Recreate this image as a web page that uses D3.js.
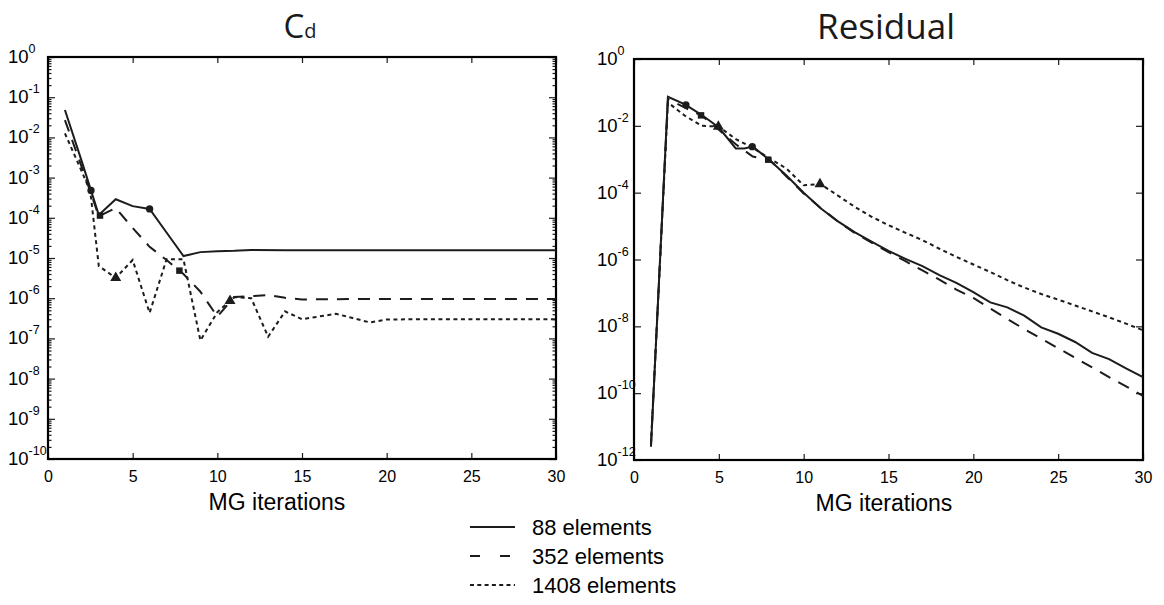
<!DOCTYPE html>
<html>
<head>
<meta charset="utf-8">
<script src="https://cdn.jsdelivr.net/npm/d3@7"></script>
<style>
body { margin: 0; background: #fff; }
svg { display: block; }
</style>
</head>
<body>
<svg id="chart" width="1164" height="605"></svg>
<script>
// series names
const seriesNames = ["88 elements", "352 elements", "1408 elements"];

// Cd panel
const cdIter88 = [1, 2, 3, 4, 5, 6, 7, 8, 9, 10, 11, 12, 14, 16, 18, 20, 22, 24, 26, 28, 30];
const cd88 = [4.8e-2, 2.5e-3, 1.17e-4, 2.9e-4, 1.95e-4, 1.66e-4, 4.3e-5, 1.12e-5, 1.4e-5, 1.48e-5, 1.51e-5,
    1.58e-5, 1.56e-5, 1.55e-5, 1.56e-5, 1.56e-5, 1.55e-5, 1.55e-5, 1.55e-5, 1.55e-5, 1.55e-5];
const cdIter352 = [1, 2, 3, 4, 5, 6, 7, 8, 9, 10, 11, 12, 13, 14, 15, 18, 21, 24, 27, 30];
const cd352 = [2.7e-2, 1.8e-3, 1.1e-4, 1.75e-4, 5.6e-5, 1.9e-5, 8.9e-6, 4e-6, 1.45e-6, 3.5e-7, 1.07e-6,
    1.12e-6, 1.2e-6, 1.02e-6, 9.3e-7, 9.5e-7, 9.5e-7, 9.5e-7, 9.5e-7, 9.5e-7];
const cdIter1408 = [1, 2, 2.5, 3, 4, 5, 6, 7, 8, 9, 10, 11, 12, 13, 14, 15, 16, 17, 18, 19, 20, 22, 25, 28, 30];
const cd1408 = [1.26e-2, 1.4e-3, 4.5e-4, 6.3e-6, 3.2e-6, 8.9e-6, 4.3e-7, 9.3e-6, 9.3e-6, 8.9e-8, 4.5e-7, 1.07e-6,
    1e-6, 1.1e-7, 4.7e-7, 3e-7, 3.5e-7, 4.1e-7, 3.2e-7, 2.5e-7, 2.95e-7, 3e-7, 3e-7, 3e-7, 3e-7];
// marker positions (iteration) along each Cd curve
const cdMarks = [[2.54, 6], [3.07, 7.76], [4, 10.75]];

// Residual panel
const resIter88 = [1, 2, 3, 4, 5, 6, 6.5, 7, 8, 9, 10, 11, 12, 13, 14, 15, 16, 17, 18, 19, 20, 21, 22, 23, 24, 25, 26, 27, 28, 29, 30];
const res88 = [2.5e-12, 7.4e-2, 4.4e-2, 2.1e-2, 8.9e-3, 2.1e-3, 2.1e-3, 2.4e-3, 9.3e-4, 3.2e-4, 1e-4, 3.4e-5, 1.4e-5,
    6.6e-6, 3.4e-6, 1.8e-6, 1.05e-6, 6.3e-7, 3.4e-7, 2e-7, 1.05e-7, 5.2e-8, 3.7e-8, 2.1e-8, 9.3e-9, 6e-9, 3.4e-9,
    1.6e-9, 1.05e-9, 5.5e-10, 3e-10];
const resIter352 = [1, 2, 3, 4, 5, 6, 7, 8, 9, 10, 11, 12, 13, 14, 15, 16, 17, 18, 19, 20, 21, 22, 23, 24, 25, 26, 27, 28, 29, 30];
const res352 = [2.8e-12, 6.3e-2, 3.5e-2, 2e-2, 7.6e-3, 2.8e-3, 1.2e-3, 9.5e-4, 3e-4, 9.5e-5, 3.5e-5, 1.4e-5, 6.3e-6,
    3.2e-6, 1.66e-6, 8.9e-7, 4.7e-7, 2.5e-7, 1.26e-7, 7.1e-8, 3.4e-8, 1.66e-8, 8.3e-9, 4.3e-9, 2.2e-9, 1.15e-9,
    5.9e-10, 3e-10, 1.6e-10, 8.3e-11];
const resIter1408 = [1, 2, 3, 4, 5, 6, 7, 8, 9, 10, 11, 12, 13, 14, 15, 16, 17, 18, 19, 20, 21, 22, 23, 24, 25, 26, 27, 28, 29, 30];
const res1408 = [3.2e-12, 5e-2, 2e-2, 1e-2, 9.5e-3, 4e-3, 2.2e-3, 1.05e-3, 5.2e-4, 1.66e-4, 1.8e-4, 8.3e-5, 3.8e-5,
    1.9e-5, 1.07e-5, 6.3e-6, 3.8e-6, 2.1e-6, 1.2e-6, 7.1e-7, 4.2e-7, 2.4e-7, 1.45e-7, 9.3e-8, 6.3e-8, 4.2e-8,
    2.8e-8, 1.86e-8, 1.2e-8, 7.6e-9];
const resMarks = [[3.06, 6.97], [3.95, 7.91], [4.97, 10.96]];

const xTicks = [0, 5, 10, 15, 20, 25, 30];
const cdExps = [0, -1, -2, -3, -4, -5, -6, -7, -8, -9, -10];
const resExps = [0, -2, -4, -6, -8, -10, -12];

const dashes = [null, "12,9", "4,3.5"];
const markerShapes = [d3.symbolCircle, d3.symbolSquare, d3.symbolTriangle];
const ink = "#1c1c1c";

const svg = d3.select("#chart");
svg.append("rect").attr("width", 1164).attr("height", 605).attr("fill", "#fff");

function zipSeries(xs, ys) {
    return xs.map((x, i) => [x, ys[i]]);
}

// log-linear interpolation to place a marker on a curve
function valueAt(pts, xv) {
    for (let i = 1; i < pts.length; i++) {
        if (xv <= pts[i][0]) {
            const t = (xv - pts[i - 1][0]) / (pts[i][0] - pts[i - 1][0]);
            const l = Math.log10(pts[i - 1][1]) * (1 - t) + Math.log10(pts[i][1]) * t;
            return Math.pow(10, l);
        }
    }
    return pts[pts.length - 1][1];
}

function drawPanel(cfg) {
    const g = svg.append("g").attr("transform", `translate(${cfg.left},${cfg.top})`);
    const w = cfg.width, h = cfg.height;

    const x = d3.scaleLinear().domain([0, 30]).range([0, w]);
    const y = d3.scaleLog().domain([Math.pow(10, cfg.exps[cfg.exps.length - 1]), 1]).range([h, 0]);

    const clipId = "clip-" + cfg.id;
    g.append("clipPath").attr("id", clipId).append("rect").attr("width", w).attr("height", h);

    // x axes, ticks pointing inward
    const xb = g.append("g").attr("transform", `translate(0,${h})`)
        .call(d3.axisBottom(x).tickValues(xTicks).tickSizeInner(-6).tickSizeOuter(0).tickPadding(12));
    g.append("g")
        .call(d3.axisTop(x).tickValues(xTicks).tickSizeInner(-6).tickSizeOuter(0).tickFormat(""));
    xb.selectAll("text").attr("font-family", "Liberation Sans, Arial, sans-serif").attr("font-size", 16).attr("fill", "#000");

    // y axes
    const majors = cfg.exps.map((e) => Math.pow(10, e));
    g.append("g").call(d3.axisLeft(y).tickValues(majors).tickSizeInner(-7).tickSizeOuter(0).tickFormat(""));
    g.append("g").attr("transform", `translate(${w},0)`)
        .call(d3.axisRight(y).tickValues(majors).tickSizeInner(-7).tickSizeOuter(0).tickFormat(""));

    if (cfg.minor) {
        const minors = [];
        cfg.exps.slice(0, -1).forEach((e) => {
            for (let k = 2; k <= 9; k++) minors.push(k * Math.pow(10, e - 1));
        });
        g.append("g").call(d3.axisLeft(y).tickValues(minors).tickSizeInner(-3.5).tickSizeOuter(0).tickFormat(""));
        g.append("g").attr("transform", `translate(${w},0)`)
            .call(d3.axisRight(y).tickValues(minors).tickSizeInner(-3.5).tickSizeOuter(0).tickFormat(""));
    }

    g.selectAll(".domain").remove();
    g.selectAll(".tick line").attr("stroke", ink).attr("stroke-width", 1.2);

    // frame
    g.append("rect").attr("width", w).attr("height", h)
        .attr("fill", "none").attr("stroke", "#000").attr("stroke-width", 2.2);

    // y tick labels as 10^n
    const lab = g.append("g").attr("font-family", "Liberation Sans, Arial, sans-serif").attr("fill", "#000");
    cfg.exps.forEach((e) => {
        const t = lab.append("text")
            .attr("x", cfg.labelX - cfg.left)
            .attr("y", y(Math.pow(10, e)) + 6)
            .attr("font-size", 18.5);
        t.append("tspan").text("10");
        t.append("tspan").attr("dy", -10).attr("font-size", 12.5).text(String(e));
    });

    // curves
    const line = d3.line().x((d) => x(d[0])).y((d) => y(d[1]));
    const curves = g.append("g").attr("clip-path", `url(#${clipId})`);
    cfg.series.forEach((pts, i) => {
        curves.append("path")
            .attr("d", line(pts))
            .attr("fill", "none")
            .attr("stroke", ink)
            .attr("stroke-width", 2)
            .attr("stroke-dasharray", dashes[i]);
    });

    // markers
    cfg.series.forEach((pts, i) => {
        cfg.marks[i].forEach((mx) => {
            curves.append("path")
                .attr("d", d3.symbol().type(markerShapes[i]).size(i === 2 ? 52 : 42)())
                .attr("transform", `translate(${x(mx)},${y(valueAt(pts, mx))})`)
                .attr("fill", ink);
        });
    });

    // x title
    g.append("text")
        .attr("x", cfg.xLabelX - cfg.left)
        .attr("y", h + 51)
        .attr("text-anchor", "middle")
        .attr("font-family", "Liberation Sans, Arial, sans-serif")
        .attr("font-size", 23)
        .text("MG iterations");

    return g;
}

drawPanel({
    id: "cd", left: 48, top: 57, width: 508, height: 402,
    exps: cdExps, minor: true, labelX: 8, xLabelX: 277,
    series: [zipSeries(cdIter88, cd88), zipSeries(cdIter352, cd352), zipSeries(cdIter1408, cd1408)],
    marks: cdMarks
});

drawPanel({
    id: "res", left: 634, top: 59, width: 509, height: 401,
    exps: resExps, minor: false, labelX: 597, xLabelX: 884,
    series: [zipSeries(resIter88, res88), zipSeries(resIter352, res352), zipSeries(resIter1408, res1408)],
    marks: resMarks
});

// panel titles
const cdTitle = svg.append("text")
    .attr("x", 300).attr("y", 38)
    .attr("text-anchor", "middle")
    .attr("font-family", "Open Sans, sans-serif")
    .attr("font-size", 33)
    .attr("fill", "#1a1a1a");
cdTitle.append("tspan").text("C");
cdTitle.append("tspan").attr("font-size", 20).text("d");

svg.append("text")
    .attr("x", 886).attr("y", 39)
    .attr("text-anchor", "middle")
    .attr("font-family", "Open Sans, sans-serif")
    .attr("font-size", 35)
    .attr("fill", "#1a1a1a")
    .text("Residual");

// legend
const legend = svg.append("g").attr("transform", "translate(470,527)");
const legendDash = [null, "10,20", "4,3.3"];
seriesNames.forEach((name, i) => {
    const row = legend.append("g").attr("transform", `translate(0,${i * 29})`);
    row.append("line")
        .attr("x1", 0).attr("x2", i === 1 ? 40 : 45)
        .attr("stroke", ink).attr("stroke-width", 2)
        .attr("stroke-dasharray", legendDash[i]);
    row.append("text")
        .attr("x", 62).attr("y", 8)
        .attr("font-family", "Liberation Sans, Arial, sans-serif")
        .attr("font-size", 22)
        .text(name);
});
</script>
</body>
</html>
